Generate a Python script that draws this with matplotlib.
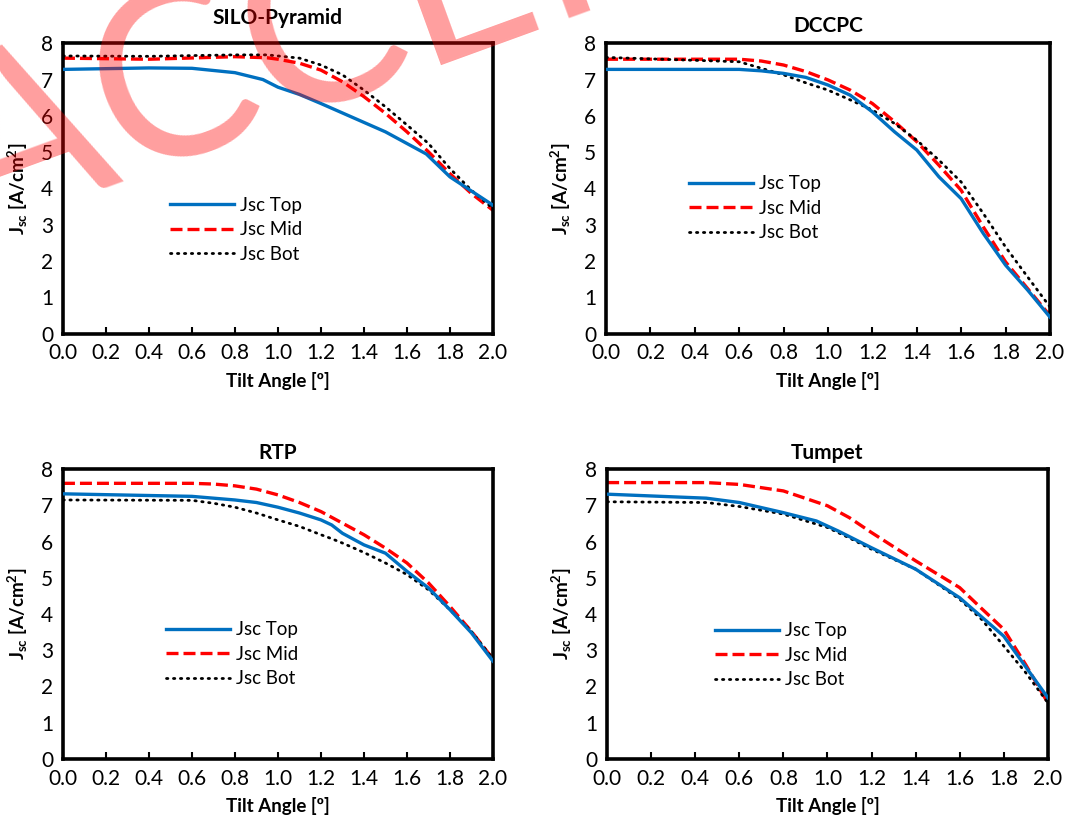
import matplotlib
matplotlib.use("Agg")
import matplotlib.pyplot as plt

plt.rcParams['font.family'] = ['Lato', 'DejaVu Sans']
plt.rcParams['mathtext.fontset'] = 'custom'
plt.rcParams['mathtext.bf'] = 'Lato:bold'
plt.rcParams['mathtext.rm'] = 'Lato'
plt.rcParams['mathtext.default'] = 'bf'

# SILO-Pyramid
silo_x_top = [0.0, 0.4, 0.6, 0.8, 0.93, 1.0, 1.1, 1.2, 1.35, 1.5, 1.69, 1.8, 2.0]
silo_top = [7.28, 7.32, 7.31, 7.19, 7.0, 6.79, 6.59, 6.34, 5.95, 5.56, 4.95, 4.32, 3.54]
silo_x = [0.0, 0.4, 0.8, 0.95, 1.0, 1.1, 1.2, 1.3, 1.4, 1.5, 1.6, 1.7, 1.8, 1.9, 2.0]
silo_mid = [7.59, 7.56, 7.63, 7.6, 7.56, 7.45, 7.26, 6.94, 6.53, 6.07, 5.56, 5.01, 4.41, 3.86, 3.4]
silo_bot = [7.65, 7.64, 7.68, 7.68, 7.65, 7.59, 7.4, 7.13, 6.71, 6.25, 5.75, 5.24, 4.55, 3.95, 3.45]

# DCCPC
dccpc_x = [0.0, 0.6, 0.7, 0.8, 0.9, 1.0, 1.1, 1.2, 1.3, 1.4, 1.5, 1.6, 1.7, 1.8, 1.9, 2.0]
dccpc_top = [7.28, 7.28, 7.24, 7.17, 7.06, 6.85, 6.57, 6.11, 5.56, 5.06, 4.32, 3.72, 2.76, 1.89, 1.2, 0.46]
dccpc_mid = [7.56, 7.56, 7.51, 7.4, 7.22, 6.99, 6.71, 6.34, 5.84, 5.29, 4.64, 3.95, 2.94, 1.98, 1.24, 0.5]
dccpc_bot = [7.61, 7.49, 7.31, 7.13, 6.91, 6.71, 6.44, 6.16, 5.79, 5.33, 4.78, 4.18, 3.31, 2.39, 1.56, 0.74]

# RTP
rtp_x = [0.0, 0.6, 0.7, 0.8, 0.9, 1.0, 1.1, 1.2, 1.25, 1.3, 1.4, 1.5, 1.6, 1.7, 1.8, 1.9, 2.0]
rtp_top = [7.32, 7.25, 7.2, 7.15, 7.08, 6.95, 6.79, 6.6, 6.46, 6.23, 5.91, 5.68, 5.18, 4.72, 4.12, 3.48, 2.7]
rtp_mid = [7.61, 7.61, 7.59, 7.54, 7.45, 7.29, 7.08, 6.83, 6.67, 6.51, 6.19, 5.82, 5.41, 4.86, 4.21, 3.52, 2.76]
rtp_bot = [7.15, 7.14, 7.06, 6.95, 6.79, 6.6, 6.42, 6.19, 6.08, 5.96, 5.7, 5.41, 5.09, 4.67, 4.12, 3.52, 2.76]

# Tumpet
tum_x = [0.0, 0.45, 0.6, 0.8, 0.95, 1.05, 1.2, 1.4, 1.6, 1.8, 2.0]
tum_top = [7.31, 7.2, 7.08, 6.8, 6.57, 6.29, 5.83, 5.24, 4.45, 3.39, 1.69]
tum_x2 = [0.0, 0.45, 0.6, 0.8, 1.0, 1.1, 1.2, 1.4, 1.6, 1.7, 1.8, 1.9, 2.0]
tum_mid = [7.63, 7.63, 7.58, 7.4, 6.99, 6.66, 6.25, 5.47, 4.73, 4.15, 3.58, 2.6, 1.55]
tum_bot = [7.1, 7.08, 6.97, 6.76, 6.39, 6.1, 5.79, 5.24, 4.41, 3.85, 3.12, 2.38, 1.55]

panels = [
    ("SILO-Pyramid", silo_x_top, silo_top, silo_x, silo_mid, silo_x, silo_bot),
    ("DCCPC", dccpc_x, dccpc_top, dccpc_x, dccpc_mid, dccpc_x, dccpc_bot),
    ("RTP", rtp_x, rtp_top, rtp_x, rtp_mid, rtp_x, rtp_bot),
    ("Tumpet", tum_x, tum_top, tum_x2, tum_mid, tum_x2, tum_bot),
]

# axes rectangles (figure fractions), legend anchors, title pads
rects = [
    [0.059, 0.591, 0.403, 0.356],
    [0.568, 0.591, 0.416, 0.356],
    [0.059, 0.070, 0.403, 0.355],
    [0.569, 0.070, 0.413, 0.355],
]
leg_anchor = [(0.249, 0.472), (0.187, 0.546), (0.24, 0.475), (0.245, 0.472)]
title_pad = [14, 8, 7, 7]

fig = plt.figure(figsize=(10.67, 8.16), dpi=100)

for i, (title, xt, top, xm, mid, xb, bot) in enumerate(panels):
    ax = fig.add_axes(rects[i])
    ax.plot(xt, top, color='#0070C0', lw=2.4, label='Jsc Top', zorder=3)
    ax.plot(xm, mid, color='#FF0000', lw=2.4, ls=(0, (3.6, 1.5)), label='Jsc Mid', zorder=2)
    ax.plot(xb, bot, color='black', lw=2.0, ls=(0, (0.5, 2.0)), dash_capstyle='round',
            label='Jsc Bot', zorder=2)
    ax.set_xlim(0, 2.0)
    ax.set_ylim(0, 8)
    ax.set_xticks([0.0, 0.2, 0.4, 0.6, 0.8, 1.0, 1.2, 1.4, 1.6, 1.8, 2.0])
    ax.set_xticklabels(['%.1f' % v for v in ax.get_xticks()])
    ax.set_yticks(range(0, 9))
    ax.tick_params(axis='x', direction='in', length=5, width=1.5, labelsize=15, pad=7)
    ax.tick_params(axis='y', length=0, labelsize=15, pad=7)
    for s in ax.spines.values():
        s.set_linewidth(2.6)
    ax.set_title(title, fontsize=15, fontweight='bold', pad=title_pad[i])
    ax.set_xlabel('Tilt Angle [º]', fontsize=13.5, fontweight='bold', labelpad=6)
    ax.set_ylabel(r'J$_{sc}$ [A/cm$^{2}$]', fontsize=13.5, fontweight='bold', labelpad=8)
    ax.legend(loc='upper left', bbox_to_anchor=leg_anchor[i], frameon=False,
              fontsize=13.5, handlelength=3.4, handletextpad=0.35, labelspacing=0.4,
              borderpad=0, borderaxespad=0)

# watermark
fig.text(-0.08, 0.715, 'ACCEPTED MANUSCRIPT', fontsize=170, color='red', alpha=0.38,
         rotation=20, ha='left', va='baseline', zorder=10)

fig.savefig('out.png', dpi=100)
